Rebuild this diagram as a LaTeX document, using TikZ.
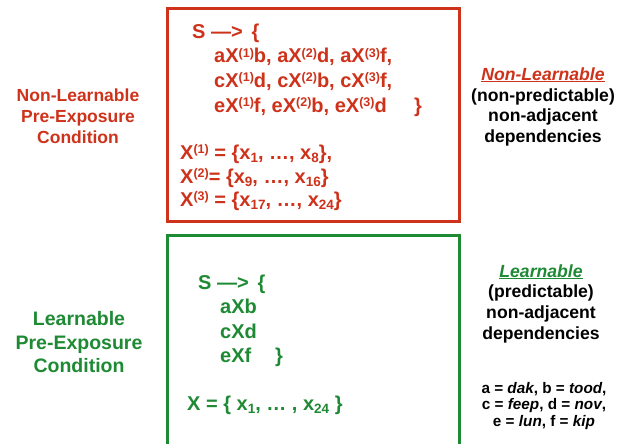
\documentclass[tikz,border=0pt]{standalone}
\usepackage{fontspec}
\setmainfont{Liberation Sans}
\definecolor{myred}{RGB}{206,50,26}
\definecolor{mygreen}{RGB}{30,138,52}
\newcommand{\sps}[1]{\raisebox{5.5pt}{\fontsize{12.5}{13}\selectfont #1}}
\newcommand{\sbs}[1]{\raisebox{-3pt}{\fontsize{13.5}{14}\selectfont #1}}
\newcommand{\sbg}[1]{\raisebox{-3pt}{\fontsize{13.5}{14}\selectfont #1}}
\begin{document}
\begin{tikzpicture}[x=1pt,y=-1pt,
  boxred/.style={draw=myred,line width=3pt},
  boxgreen/.style={draw=mygreen,line width=3pt},
  rule/.style={font=\fontsize{20}{24}\selectfont\bfseries, anchor=base west, inner sep=0pt},
  redrule/.style={rule, text=myred},
  greenrule/.style={rule, text=mygreen},
  cond/.style={anchor=base, inner sep=0pt},
  redcond/.style={cond, text=myred, font=\fontsize{17.5}{21}\selectfont\bfseries},
  greencond/.style={cond, text=mygreen, font=\fontsize{19.5}{24}\selectfont\bfseries},
  desc/.style={cond, text=black, font=\fontsize{17.6}{21}\selectfont\bfseries},
  legend/.style={cond, text=black, font=\fontsize{15.3}{17}\selectfont\bfseries}
]
\useasboundingbox (0,0) rectangle (626,444);
\clip (0,0) rectangle (626,444);
\fill[white] (0,0) rectangle (626,444);

% boxes
\draw[boxred] (167,8.5) rectangle (459,221.5);
\draw[boxgreen] (167,235) rectangle (459,460);

% red box contents
\node[redrule] (rS) at (192,39) {S —> \,\{};
\node[redrule] (r1) at (214,63) {aX\sps{(1)}b, aX\sps{(2)}d, aX\sps{(3)}f,};
\node[redrule] (r2) at (214,87) {cX\sps{(1)}d, cX\sps{(2)}b, cX\sps{(3)}f,};
\node[redrule] (r3) at (214,112) {eX\sps{(1)}f, eX\sps{(2)}b, eX\sps{(3)}d};
\node[redrule] (rC) at (414,112) {\}};
\node[redrule] (x1) at (180,159) {X\sps{(1)} = \{x\sbs{1}, …, x\sbs{8}\},};
\node[redrule] (x2) at (180,183) {X\sps{(2)}= \{x\sbs{9}, …, x\sbs{16}\}};
\node[redrule] (x3) at (180,206) {X\sps{(3)} = \{x\sbs{17}, …, x\sbs{24}\}};

% green box contents
\node[greenrule] (gS) at (198,289) {S —> \,\{};
\node[greenrule] (g1) at (220,313) {aXb};
\node[greenrule] (g2) at (220,338) {cXd};
\node[greenrule] (g3) at (220,362) {eXf};
\node[greenrule] (gC) at (275,362) {\}};
\node[greenrule] (gX) at (187,410) {X = \{ x\sbg{1}, … , x\sbg{24} \}};

% left labels
\node[redcond] (rl1) at (78,101) {Non-Learnable};
\node[redcond] (rl2) at (78,122) {Pre-Exposure};
\node[redcond] (rl3) at (78,143) {Condition};
\node[greencond] (gl1) at (79,325) {Learnable};
\node[greencond] (gl2) at (79,349) {Pre-Exposure};
\node[greencond] (gl3) at (79,372) {Condition};

% right descriptions
\node[desc, text=myred] (rd1) at (543,80) {\itshape\underline{Non-Learnable}};
\node[desc] (rd2) at (543,101) {(non-predictable)};
\node[desc] (rd3) at (543,121.5) {non-adjacent};
\node[desc] (rd4) at (543,142) {dependencies};
\node[desc, text=mygreen] (gd1) at (541,277) {\itshape\underline{Learnable}};
\node[desc] (gd2) at (541,297.5) {(predictable)};
\node[desc] (gd3) at (541,318) {non-adjacent};
\node[desc] (gd4) at (541,339.5) {dependencies};

% legend
\node[legend] (lg1) at (544,393) {a = \textit{dak}, b = \textit{tood},};
\node[legend] (lg2) at (544,409.5) {c = \textit{feep}, d = \textit{nov},};
\node[legend] (lg3) at (544,426) {e = \textit{lun}, f = \textit{kip}};
\end{tikzpicture}
\end{document}
